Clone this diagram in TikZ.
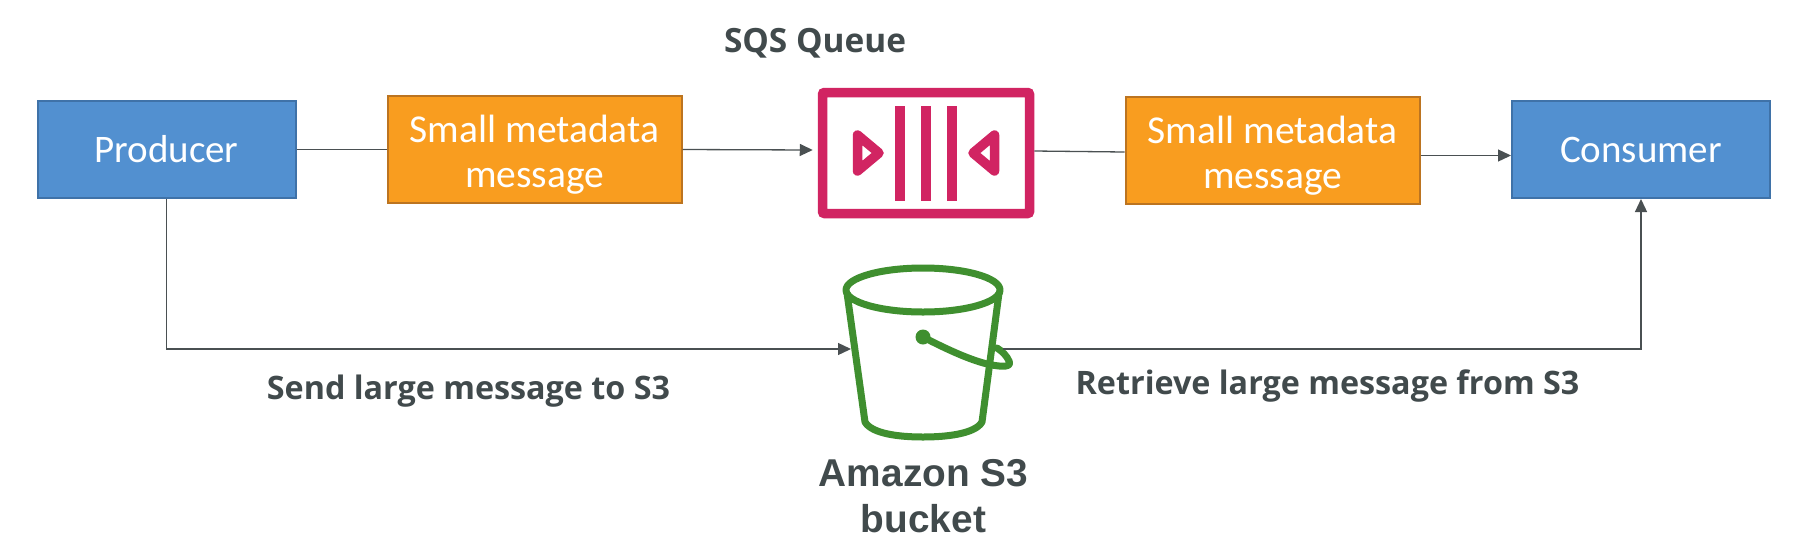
\documentclass[tikz,border=0pt]{standalone}
\usepackage{fontspec}
\setmainfont{Carlito}
\newfontfamily\labelfont{Open Sans}
\newfontfamily\helvfont{Liberation Sans}
\usetikzlibrary{arrows.meta,calc}
\definecolor{boxblue}{HTML}{5290D0}
\definecolor{boxblueline}{HTML}{3F72A8}
\definecolor{boxorange}{HTML}{F99D1F}
\definecolor{boxorangeline}{HTML}{BC7420}
\definecolor{sqspink}{HTML}{D12462}
\definecolor{sthreegreen}{HTML}{3F8F2F}
\definecolor{inktext}{HTML}{414A4C}
\definecolor{linkgrey}{HTML}{4A5052}
\tikzset{
 x=1pt,y=-1pt,
 bluebox/.style={draw=boxblueline,line width=2pt,fill=boxblue,text=white,minimum width=258pt,minimum height=97pt,inner sep=0pt,font=\fontsize{39}{44}\selectfont,align=center},
 orangebox/.style={draw=boxorangeline,line width=2pt,fill=boxorange,minimum width=294pt,minimum height=107pt,inner sep=0pt},
 orangetext/.style={text=white,inner sep=0pt,font=\fontsize{39.5}{45}\selectfont,align=center},
 boldlabel/.style={text=inktext,font=\labelfont\bfseries\fontsize{32.3}{38}\selectfont,inner sep=0pt},
 link/.style={draw=linkgrey,line width=1.3pt},
 arrowlink/.style={link,-{Triangle[length=13pt,width=12pt]}},
 sqsline/.style={draw=sqspink,line width=9.5pt},
 sqsmark/.style={draw=sqspink,line width=9.5pt,line join=round},
 bucketline/.style={draw=sthreegreen,line width=7pt,line cap=round,line join=round},
}
\begin{document}
\begin{tikzpicture}
\useasboundingbox (0,0) rectangle (1794,558);
\fill[white] (0,0) rectangle (1794,558);
\node[bluebox] (producer) at (166.5,149.5) {Producer};
\node[bluebox] (consumer) at (1641,149.5) {Consumer};
\node[orangebox] (msgone) at (534.5,149.5) {};
\node[orangetext] (msgonetext) at (534.5,154.5) {Small metadata\\message};
\node[orangebox] (msgtwo) at (1272.5,150.5) {};
\node[orangetext] (msgtwotext) at (1272.5,155.5) {Small metadata\\message};
% SQS queue
\node[draw=sqspink,line width=9.5pt,rounded corners=2pt,minimum width=207pt,minimum height=121pt,inner sep=0pt] (queue) at (926,153) {};
\draw[sqsline] (900,106) -- (900,201);
\draw[sqsline] (926,106) -- (926,201);
\draw[sqsline] (952,106) -- (952,201);
\draw[sqsmark] (857.5,135) -- (857.5,171) -- (879,153) -- cycle;
\draw[sqsmark] (994.5,135) -- (994.5,171) -- (973,153) -- cycle;
\node[boldlabel,font=\labelfont\bfseries\fontsize{33.4}{40}\selectfont] (sqslabel) at (815,43) {SQS Queue};
% S3 bucket
\node[minimum width=156pt,minimum height=150pt,inner sep=0pt] (bucket) at (923,363) {};
\coordinate (bucketin) at (851,349);
\coordinate (bucketout) at (1003,349);
\draw[bucketline] (923,290) ellipse (77pt and 22pt);
\draw[bucketline] (847,293) -- (865,422) .. controls (872,434) and (900,437) .. (923,437) .. controls (946,437) and (975,434) .. (982,422) -- (999,293);
\fill[sthreegreen] (923,337) circle (7.5pt);
\draw[bucketline] (923,337) .. controls (950,351) and (975,362) .. (992,365) .. controls (1003,367) and (1012,367) .. (1009,361) .. controls (1007,356) and (1002,351) .. (997,348);
\node[text=inktext,font=\helvfont\bfseries\fontsize{38.8}{46}\selectfont,align=center,inner sep=0pt] (bucketname) at (923.5,496) {Amazon S3\\bucket};
\node[boldlabel] (sendlabel) at (468.5,391) {Send large message to S3};
\node[boldlabel] (getlabel) at (1327.5,386) {Retrieve large message from S3};
% connectors
\coordinate (q-in) at ($(queue.west)+(-5,-3)$);
\draw[link] (producer.east) -- (msgone.west);
\draw[arrowlink] (msgone.east) -- (q-in);
\draw[link] ($(queue.east)+(0,-2)$) -- ($(msgtwo.west)+(0,1.5)$);
\draw[arrowlink] ($(msgtwo.east)+(0,5)$) -- ($(consumer.west)+(0,6)$);
\draw[arrowlink] (producer.south) |- (bucketin);
\draw[arrowlink] (bucketout) -| (consumer.south);
\end{tikzpicture}
\end{document}
